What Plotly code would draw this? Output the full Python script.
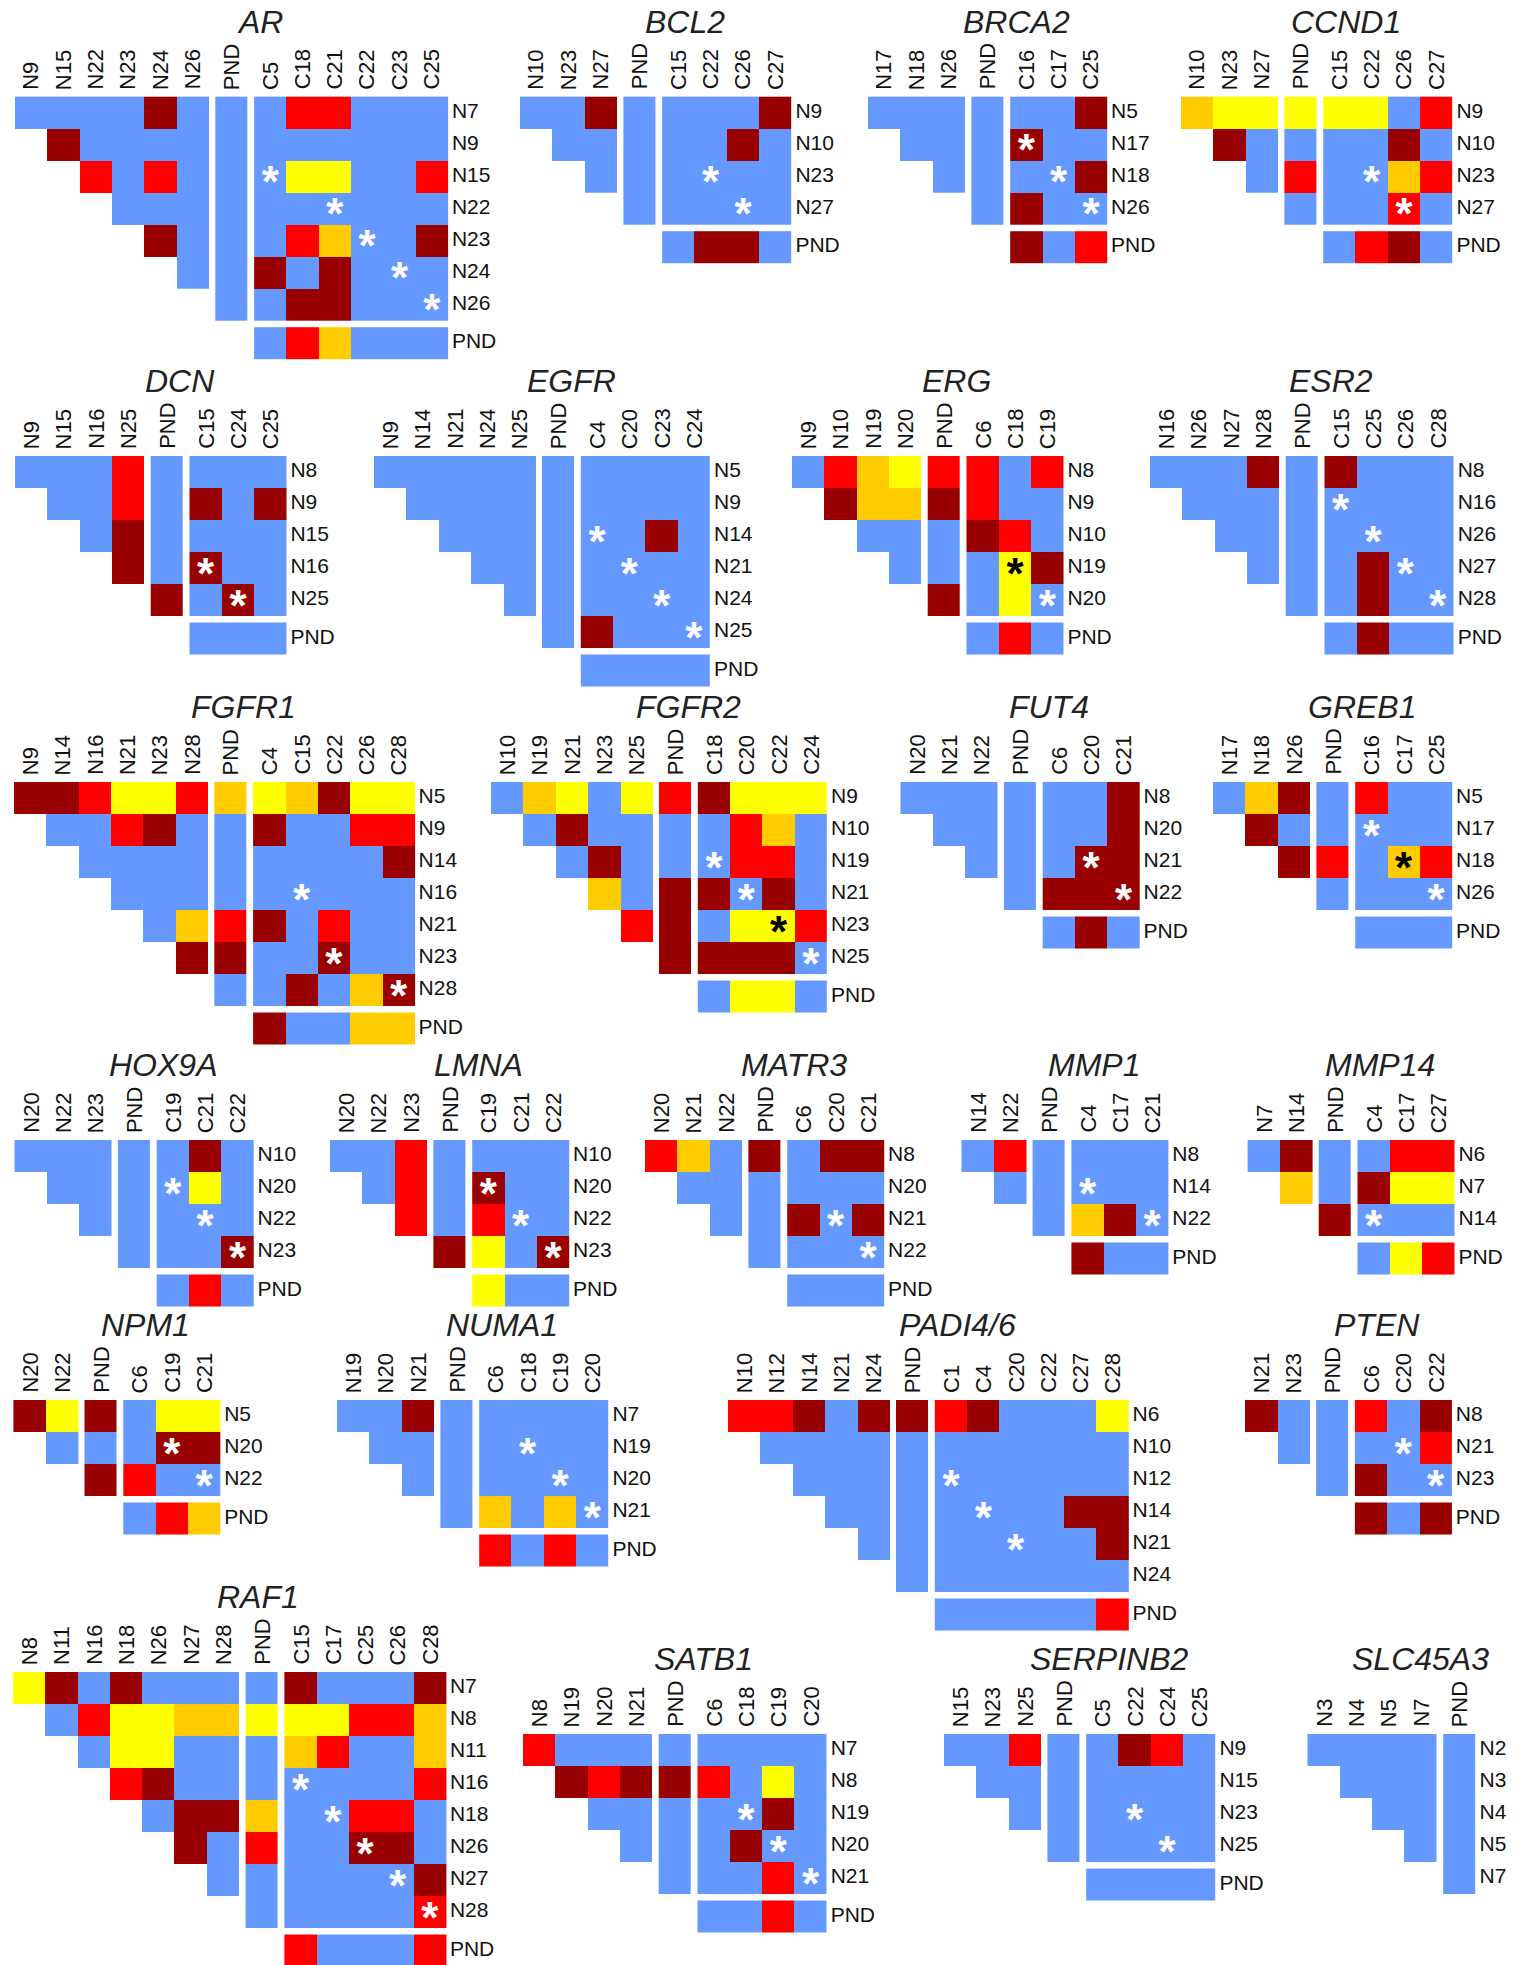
import plotly.graph_objects as go

# ---------------- DATA ----------------
# colour codes: B blue, Y yellow, O orange, R red, D dark red; lowercase = cell marked with asterisk
AR_N = ["N7", "N9", "N15", "N22", "N23", "N24", "N26"]
AR_C = ["C5", "C18", "C21", "C22", "C23", "C25"]
AR_NN = ["BBBBDB", "DBBBB", "RBRB", "BBB", "DB", "B"]
AR_NP = "BBBBBBB"
AR_NC = ["BRRBBB", "BBBBBB", "bYYBBR", "BBbBBB", "BRObBD", "DBDBbB", "BDDBBb"]
AR_CP = "BROBBB"

BCL2_N = ["N9", "N10", "N23", "N27"]
BCL2_C = ["C15", "C22", "C26", "C27"]
BCL2_NN = ["BBD", "BB", "B"]
BCL2_NP = "BBBB"
BCL2_NC = ["BBBD", "BBDB", "BbBB", "BBbB"]
BCL2_CP = "BDDB"

BRCA2_N = ["N5", "N17", "N18", "N26"]
BRCA2_C = ["C16", "C17", "C25"]
BRCA2_NN = ["BBB", "BB", "B"]
BRCA2_NP = "BBBB"
BRCA2_NC = ["BBD", "dBB", "BbD", "DBb"]
BRCA2_CP = "DBR"

CCND1_N = ["N9", "N10", "N23", "N27"]
CCND1_C = ["C15", "C22", "C26", "C27"]
CCND1_NN = ["OYY", "DB", "B"]
CCND1_NP = "YBRB"
CCND1_NC = ["YYBR", "BBDB", "BbOR", "BBrB"]
CCND1_CP = "BRDB"

DCN_N = ["N8", "N9", "N15", "N16", "N25"]
DCN_C = ["C15", "C24", "C25"]
DCN_NN = ["BBBR", "BBR", "BD", "D"]
DCN_NP = "BBBBD"
DCN_NC = ["BBB", "DBD", "BBB", "dBB", "BdB"]
DCN_CP = "BBB"

EGFR_N = ["N5", "N9", "N14", "N21", "N24", "N25"]
EGFR_C = ["C4", "C20", "C23", "C24"]
EGFR_NN = ["BBBBB", "BBBB", "BBB", "BB", "B"]
EGFR_NP = "BBBBBB"
EGFR_NC = ["BBBB", "BBBB", "bBDB", "BbBB", "BBbB", "DBBb"]
EGFR_CP = "BBBB"

ERG_N = ["N8", "N9", "N10", "N19", "N20"]
ERG_C = ["C6", "C18", "C19"]
ERG_NN = ["BROY", "DOO", "BB", "B"]
ERG_NP = "RDBBD"
ERG_NC = ["RBR", "RBB", "DRB", "ByD", "BYb"]
ERG_CP = "BRB"

ESR2_N = ["N8", "N16", "N26", "N27", "N28"]
ESR2_C = ["C15", "C25", "C26", "C28"]
ESR2_NN = ["BBBD", "BBB", "BB", "B"]
ESR2_NP = "BBBBB"
ESR2_NC = ["DBBB", "bBBB", "BbBB", "BDbB", "BDBb"]
ESR2_CP = "BDBB"

FGFR1_N = ["N5", "N9", "N14", "N16", "N21", "N23", "N28"]
FGFR1_C = ["C4", "C15", "C22", "C26", "C28"]
FGFR1_NN = ["DDRYYR", "BBRDB", "BBBB", "BBB", "BO", "D"]
FGFR1_NP = "OBBBRDB"
FGFR1_NC = ["YODYY", "DBBRR", "BBBBD", "BbBBB", "DBRBB", "BBdBB", "BDBOd"]
FGFR1_CP = "DBBOO"

FGFR2_N = ["N9", "N10", "N19", "N21", "N23", "N25"]
FGFR2_C = ["C18", "C20", "C22", "C24"]
FGFR2_NN = ["BOYBY", "BDBB", "BDB", "OB", "R"]
FGFR2_NP = "RBBDDD"
FGFR2_NC = ["DYYY", "BROB", "bRRB", "DbDB", "BYyR", "DDDb"]
FGFR2_CP = "BYYB"

FUT4_N = ["N8", "N20", "N21", "N22"]
FUT4_C = ["C6", "C20", "C21"]
FUT4_NN = ["BBB", "BB", "B"]
FUT4_NP = "BBBB"
FUT4_NC = ["BBD", "BBD", "BdD", "DDd"]
FUT4_CP = "BDB"

GREB1_N = ["N5", "N17", "N18", "N26"]
GREB1_C = ["C16", "C17", "C25"]
GREB1_NN = ["BOD", "DB", "D"]
GREB1_NP = "BBRB"
GREB1_NC = ["RBB", "bBB", "BoR", "BBb"]
GREB1_CP = "BBB"

HOX9A_N = ["N10", "N20", "N22", "N23"]
HOX9A_C = ["C19", "C21", "C22"]
HOX9A_NN = ["BBB", "BB", "B"]
HOX9A_NP = "BBBB"
HOX9A_NC = ["BDB", "bYB", "BbB", "BBd"]
HOX9A_CP = "BRB"

LMNA_N = ["N10", "N20", "N22", "N23"]
LMNA_C = ["C19", "C21", "C22"]
LMNA_NN = ["BBR", "BR", "R"]
LMNA_NP = "BBBD"
LMNA_NC = ["BBB", "dBB", "RbB", "YBd"]
LMNA_CP = "YBB"

MATR3_N = ["N8", "N20", "N21", "N22"]
MATR3_C = ["C6", "C20", "C21"]
MATR3_NN = ["ROB", "BB", "B"]
MATR3_NP = "DBBB"
MATR3_NC = ["BDD", "BBB", "DbD", "BBb"]
MATR3_CP = "BBB"

MMP1_N = ["N8", "N14", "N22"]
MMP1_C = ["C4", "C17", "C21"]
MMP1_NN = ["BR", "B"]
MMP1_NP = "BBB"
MMP1_NC = ["BBB", "bBB", "ODb"]
MMP1_CP = "DBB"

MMP14_N = ["N6", "N7", "N14"]
MMP14_C = ["C4", "C17", "C27"]
MMP14_NN = ["BD", "O"]
MMP14_NP = "BBD"
MMP14_NC = ["BRR", "DYY", "bBB"]
MMP14_CP = "BYR"

NPM1_N = ["N5", "N20", "N22"]
NPM1_C = ["C6", "C19", "C21"]
NPM1_NN = ["DY", "B"]
NPM1_NP = "DBD"
NPM1_NC = ["BYY", "BdD", "RBb"]
NPM1_CP = "BRO"

NUMA1_N = ["N7", "N19", "N20", "N21"]
NUMA1_C = ["C6", "C18", "C19", "C20"]
NUMA1_NN = ["BBD", "BB", "B"]
NUMA1_NP = "BBBB"
NUMA1_NC = ["BBBB", "BbBB", "BBbB", "OBOb"]
NUMA1_CP = "RBRB"

PADI_N = ["N6", "N10", "N12", "N14", "N21", "N24"]
PADI_C = ["C1", "C4", "C20", "C22", "C27", "C28"]
PADI_NN = ["RRDBD", "BBBB", "BBB", "BB", "B"]
PADI_NP = "DBBBBB"
PADI_NC = ["RDBBBY", "BBBBBB", "bBBBBB", "BbBBDD", "BBbBBD", "BBBBBB"]
PADI_CP = "BBBBBR"

PTEN_N = ["N8", "N21", "N23"]
PTEN_C = ["C6", "C20", "C22"]
PTEN_NN = ["DB", "B"]
PTEN_NP = "BBB"
PTEN_NC = ["RBD", "BbR", "DBb"]
PTEN_CP = "DBD"

RAF1_N = ["N7", "N8", "N11", "N16", "N18", "N26", "N27", "N28"]
RAF1_C = ["C15", "C17", "C25", "C26", "C28"]
RAF1_NN = ["YDBDBBB", "BRYYOO", "BYYBB", "RDBB", "BDD", "DB", "B"]
RAF1_NP = "BYBBORBB"
RAF1_NC = ["DBBBD", "YYRRO", "ORBBO", "bBBBR", "BbRRB", "BBdDB", "BBBbD", "BBBBr"]
RAF1_CP = "RBBBR"

SATB1_N = ["N7", "N8", "N19", "N20", "N21"]
SATB1_C = ["C6", "C18", "C19", "C20"]
SATB1_NN = ["RBBB", "DRD", "BB", "B"]
SATB1_NP = "BDBBB"
SATB1_NC = ["BBBB", "RBYB", "BbDB", "BDbB", "BBRb"]
SATB1_CP = "BBRB"

SERP_N = ["N9", "N15", "N23", "N25"]
SERP_C = ["C5", "C22", "C24", "C25"]
SERP_NN = ["BBR", "BB", "B"]
SERP_NP = "BBBB"
SERP_NC = ["BDRB", "BBBB", "BbBB", "BBbB"]
SERP_CP = "BBBB"

SLC_N = ["N2", "N3", "N4", "N5", "N7"]
SLC_C = []
SLC_NN = ["BBBB", "BBB", "BB", "B"]
SLC_NP = "BBBBB"
SLC_NC = []
SLC_CP = ""

PANELS = [
    ("AR", AR_N, AR_C, AR_NN, AR_NP, AR_NC, AR_CP),
    ("BCL2", BCL2_N, BCL2_C, BCL2_NN, BCL2_NP, BCL2_NC, BCL2_CP),
    ("BRCA2", BRCA2_N, BRCA2_C, BRCA2_NN, BRCA2_NP, BRCA2_NC, BRCA2_CP),
    ("CCND1", CCND1_N, CCND1_C, CCND1_NN, CCND1_NP, CCND1_NC, CCND1_CP),
    ("DCN", DCN_N, DCN_C, DCN_NN, DCN_NP, DCN_NC, DCN_CP),
    ("EGFR", EGFR_N, EGFR_C, EGFR_NN, EGFR_NP, EGFR_NC, EGFR_CP),
    ("ERG", ERG_N, ERG_C, ERG_NN, ERG_NP, ERG_NC, ERG_CP),
    ("ESR2", ESR2_N, ESR2_C, ESR2_NN, ESR2_NP, ESR2_NC, ESR2_CP),
    ("FGFR1", FGFR1_N, FGFR1_C, FGFR1_NN, FGFR1_NP, FGFR1_NC, FGFR1_CP),
    ("FGFR2", FGFR2_N, FGFR2_C, FGFR2_NN, FGFR2_NP, FGFR2_NC, FGFR2_CP),
    ("FUT4", FUT4_N, FUT4_C, FUT4_NN, FUT4_NP, FUT4_NC, FUT4_CP),
    ("GREB1", GREB1_N, GREB1_C, GREB1_NN, GREB1_NP, GREB1_NC, GREB1_CP),
    ("HOX9A", HOX9A_N, HOX9A_C, HOX9A_NN, HOX9A_NP, HOX9A_NC, HOX9A_CP),
    ("LMNA", LMNA_N, LMNA_C, LMNA_NN, LMNA_NP, LMNA_NC, LMNA_CP),
    ("MATR3", MATR3_N, MATR3_C, MATR3_NN, MATR3_NP, MATR3_NC, MATR3_CP),
    ("MMP1", MMP1_N, MMP1_C, MMP1_NN, MMP1_NP, MMP1_NC, MMP1_CP),
    ("MMP14", MMP14_N, MMP14_C, MMP14_NN, MMP14_NP, MMP14_NC, MMP14_CP),
    ("NPM1", NPM1_N, NPM1_C, NPM1_NN, NPM1_NP, NPM1_NC, NPM1_CP),
    ("NUMA1", NUMA1_N, NUMA1_C, NUMA1_NN, NUMA1_NP, NUMA1_NC, NUMA1_CP),
    ("PADI4/6", PADI_N, PADI_C, PADI_NN, PADI_NP, PADI_NC, PADI_CP),
    ("PTEN", PTEN_N, PTEN_C, PTEN_NN, PTEN_NP, PTEN_NC, PTEN_CP),
    ("RAF1", RAF1_N, RAF1_C, RAF1_NN, RAF1_NP, RAF1_NC, RAF1_CP),
    ("SATB1", SATB1_N, SATB1_C, SATB1_NN, SATB1_NP, SATB1_NC, SATB1_CP),
    ("SERPINB2", SERP_N, SERP_C, SERP_NN, SERP_NP, SERP_NC, SERP_CP),
    ("SLC45A3", SLC_N, SLC_C, SLC_NN, SLC_NP, SLC_NC, SLC_CP),
]

# ---------------- LAYOUT (page pixels) ----------------
W, H = 1526, 1965
CW, CH, GAP = 32.3, 32.0, 6.5
ORIGIN = {
    "AR": (15, 96.7), "BCL2": (520, 96.7), "BRCA2": (868, 96.7), "CCND1": (1181, 96.7),
    "DCN": (15, 456), "EGFR": (374, 456), "ERG": (792, 456), "ESR2": (1150, 456),
    "FGFR1": (14, 782), "FGFR2": (491, 782), "FUT4": (900.5, 782), "GREB1": (1213, 782),
    "HOX9A": (14.5, 1140), "LMNA": (330, 1140), "MATR3": (645, 1140), "MMP1": (961.5, 1140),
    "MMP14": (1247.6, 1140),
    "NPM1": (13.4, 1400), "NUMA1": (337, 1400), "PADI4/6": (728, 1400), "PTEN": (1245, 1400),
    "RAF1": (13, 1672), "SATB1": (523, 1734), "SERPINB2": (944, 1734), "SLC45A3": (1307.5, 1734),
}

LEVELS = "BYORD"
PALETTE = ["#6699FF", "#FFFF00", "#FFCC00", "#FF0000", "#990000"]
CSCALE = []
for i, c in enumerate(PALETTE):
    CSCALE.append([i / len(PALETTE), c])
    CSCALE.append([(i + 1) / len(PALETTE), c])

FONT = "Liberation Sans, Arial, Helvetica, sans-serif"
COL_LABEL_SIZE = 22
ROW_LABEL_SIZE = 21
TITLE_SIZE = 32
STAR_SIZE = 44


def lvl(ch):
    return LEVELS.index(ch.upper())


def heat(xe, ye, z):
    return go.Heatmap(x=xe, y=ye, z=z, zmin=-0.5, zmax=len(PALETTE) - 0.5,
                      colorscale=CSCALE, showscale=False, hoverinfo="skip")


fig = go.Figure()
annotations = []
row_x, row_y, row_t = [], [], []
star_x, star_y, star_c = [], [], []

for title, N, C, NN, NP, NC, CP in PANELS:
    x0, y0 = ORIGIN[title]
    n = len(N)
    k = n - 1
    m = len(C)
    ye = [y0 + r * CH for r in range(n + 1)]
    # left triangle (N vs N)
    xl = [x0 + j * CW for j in range(k + 1)]
    zl = []
    for r in range(k):
        zl.append([None] * r + [lvl(ch) for ch in NN[r]])
    fig.add_trace(heat(xl, ye[:k + 1], zl))
    # PND column
    xp0 = xl[-1] + GAP
    fig.add_trace(heat([xp0, xp0 + CW], ye, [[lvl(ch)] for ch in NP]))
    right = xp0 + CW
    col_centers = [x0 + (j + 0.5) * CW for j in range(k)] + [xp0 + CW / 2]
    col_text = N[1:] + ["PND"]
    if m:
        xc0 = xp0 + CW + GAP
        xc = [xc0 + j * CW for j in range(m + 1)]
        fig.add_trace(heat(xc, ye, [[lvl(ch) for ch in row] for row in NC]))
        yp0 = ye[-1] + GAP
        fig.add_trace(heat(xc, [yp0, yp0 + CH], [[lvl(ch) for ch in CP]]))
        right = xc[-1]
        col_centers += [xc0 + (j + 0.5) * CW for j in range(m)]
        col_text += C
        for r, row in enumerate(NC):
            for j, ch in enumerate(row):
                if ch.islower():
                    star_x.append(xc0 + (j + 0.5) * CW)
                    star_y.append(y0 + (r + 0.5) * CH + 0.22 * STAR_SIZE)
                    star_c.append("black" if ch.upper() in "YO" else "white")
    # row labels
    for r, lab in enumerate(N):
        row_x.append(right + 4)
        row_y.append(y0 + (r + 0.5) * CH)
        row_t.append(lab)
    if m:
        row_x.append(right + 4)
        row_y.append(ye[-1] + GAP + CH / 2)
        row_t.append("PND")
    # column labels
    for cx, t in zip(col_centers, col_text):
        annotations.append(dict(x=cx, y=y0 - 5, xref="x", yref="y", text=t, textangle=-90,
                                xanchor="center", yanchor="bottom", showarrow=False,
                                font=dict(family=FONT, size=COL_LABEL_SIZE, color="#111")))
    # title
    annotations.append(dict(x=(x0 + right + 58) / 2, y=y0 - 75, xref="x", yref="y",
                            text="<i>" + title + "</i>", xanchor="center", yanchor="middle",
                            showarrow=False,
                            font=dict(family=FONT, size=TITLE_SIZE, color="#222")))

fig.add_trace(go.Scatter(x=row_x, y=row_y, text=row_t, mode="text", textposition="middle right",
                         textfont=dict(family=FONT, size=ROW_LABEL_SIZE, color="#111"),
                         hoverinfo="skip", showlegend=False))
fig.add_trace(go.Scatter(x=star_x, y=star_y, text=["<b>*</b>"] * len(star_x), mode="text",
                         textposition="middle center",
                         textfont=dict(family=FONT, size=STAR_SIZE, color=star_c),
                         hoverinfo="skip", showlegend=False))

fig.update_layout(
    width=W, height=H, margin=dict(l=0, r=0, t=0, b=0),
    paper_bgcolor="white", plot_bgcolor="white", showlegend=False,
    xaxis=dict(range=[0, W], visible=False, fixedrange=True),
    yaxis=dict(range=[H, 0], visible=False, fixedrange=True),
    annotations=annotations,
)

fig.write_html("out.html", config={"displayModeBar": False},
               post_script="document.body.style.margin='0';")
